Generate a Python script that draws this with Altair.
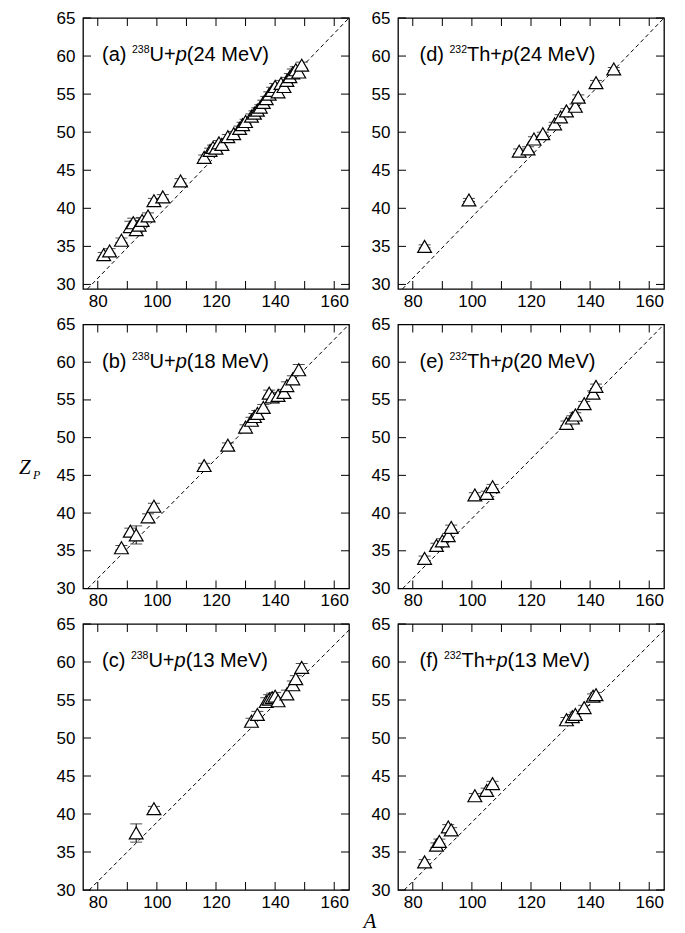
import altair as alt
import pandas as pd

# ---------------- data ----------------
a_A = [82, 84, 88, 91, 92, 93, 94, 95, 97, 99, 102, 108, 116, 118, 119, 120, 121, 122, 124, 126,
       128, 129, 130, 132, 133, 134, 135, 136, 137, 138, 139, 140, 141, 142, 143, 144, 145, 146, 147, 148, 149]
a_Z = [33.9, 34.4, 35.8, 37.6, 38.1, 37.2, 37.8, 38.4, 39.0, 41.0, 41.5, 43.6, 46.7, 47.6, 48.0, 47.9, 48.6, 48.4, 49.4, 49.8,
       50.5, 51.0, 51.4, 52.1, 52.5, 52.9, 53.3, 53.9, 54.4, 55.0, 55.5, 56.0, 55.3, 56.4, 56.0, 56.8, 57.3, 57.8, 58.2, 57.9, 58.8]
a_E = [0.3, 0.3, 0.3, 0.7, 0.6, 0.7, 0.6, 0.4, 0.4, 0.3, 0.3, 0.3, 0.3, 0.3, 0.3, 0.3, 0.3, 0.3, 0.3, 0.3,
       0.3, 0.3, 0.3, 0.3, 0.3, 0.3, 0.3, 0.3, 0.3, 0.3, 0.4, 0.4, 0.5, 0.4, 0.4, 0.4, 0.4, 0.5, 0.4, 0.6, 0.4]

b_A = [88, 91, 93, 97, 99, 116, 124, 130, 132, 133, 134, 136, 138, 139, 141, 143, 144, 146, 148]
b_Z = [35.4, 37.6, 37.1, 39.5, 40.9, 46.3, 49.0, 51.4, 52.3, 52.8, 53.2, 54.0, 55.9, 55.4, 55.6, 56.0, 56.9, 57.8, 59.0]
b_E = [0.3, 0.4, 1.2, 0.4, 0.4, 0.3, 0.3, 0.3, 0.4, 0.4, 0.4, 0.4, 0.4, 0.4, 0.4, 0.4, 0.5, 0.4, 0.7]

c_A = [93, 99, 132, 134, 137, 138, 139, 140, 141, 144, 146, 147, 149]
c_Z = [37.5, 40.7, 52.2, 53.1, 54.8, 55.1, 55.3, 55.5, 54.9, 55.8, 57.0, 57.8, 59.3]
c_E = [1.2, 0.3, 0.4, 0.4, 0.5, 0.6, 0.6, 0.5, 0.4, 0.5, 0.5, 0.4, 0.5]

d_A = [84, 99, 116, 119, 121, 124, 128, 130, 132, 135, 136, 142, 148]
d_Z = [35.0, 41.1, 47.5, 47.8, 49.1, 49.8, 51.1, 52.0, 52.8, 53.4, 54.6, 56.5, 58.3]
d_E = [0.2, 0.2, 0.3, 0.3, 0.3, 0.2, 0.2, 0.3, 0.3, 0.3, 0.3, 0.3, 0.2]

e_A = [84, 88, 90, 92, 93, 101, 105, 107, 132, 134, 135, 138, 141, 142]
e_Z = [34.0, 35.7, 36.3, 37.0, 38.1, 42.4, 42.6, 43.5, 51.9, 52.6, 53.0, 54.5, 55.9, 56.8]
e_E = [0.3, 0.3, 0.3, 0.3, 0.3, 0.3, 0.3, 0.3, 0.3, 0.3, 0.3, 0.3, 0.3, 0.3]

f_A = [84, 88, 89, 92, 93, 101, 105, 107, 132, 134, 135, 138, 141, 142]
f_Z = [33.7, 35.9, 36.4, 38.3, 37.9, 42.4, 43.1, 44.0, 52.4, 52.8, 53.1, 54.0, 55.5, 55.7]
f_E = [0.3, 0.3, 0.3, 0.3, 0.3, 0.3, 0.3, 0.3, 0.3, 0.3, 0.3, 0.3, 0.3, 0.3]

# dashed reference lines (end points)
line_A = {"a": [76.5, 165], "b": [76.6, 165], "c": [77.1, 165],
          "d": [76.5, 165], "e": [76.6, 165], "f": [77.1, 165]}
line_Z = {"a": [29.4, 65], "b": [30, 65], "c": [30, 64.2],
          "d": [29.4, 65], "e": [30, 65], "f": [30, 64.2]}

panel_tag = ["(a)", "(b)", "(c)", "(d)", "(e)", "(f)"]
panel_mass = ["238", "238", "238", "232", "232", "232"]
panel_target = ["U", "U", "U", "Th", "Th", "Th"]
panel_energy = ["(24 MeV)", "(18 MeV)", "(13 MeV)", "(24 MeV)", "(20 MeV)", "(13 MeV)"]

x_label_vals = [80, 100, 120, 140, 160]
x_tick_vals = [80, 90, 100, 110, 120, 130, 140, 150, 160]
y_tick_vals = [30, 35, 40, 45, 50, 55, 60, 65]

# ---------------- layout / style ----------------
W = 266
HEIGHTS = [271, 264, 266]
YDOMS = [[29.4, 65], [30, 65], [30, 65]]
XDOM = [75, 165]
FONT = "Liberation Sans"
SERIF = "Liberation Serif"
TICK = 8

AW = {'(': 333, ')': 333, ' ': 278, 'a': 556, 'b': 556, 'c': 500, 'd': 556, 'e': 556,
      'f': 278, 'U': 722, '+': 584, 'T': 611, 'h': 556, 'p': 556, 'M': 833, 'V': 667}
for ch in "0123456789":
    AW[ch] = 556


def tw(s, fs):
    return sum(AW[c] for c in s) * fs / 1000.0


def txt(text, x, y, fs, style="normal", font=FONT):
    return alt.Chart(alt.Data(values=[{"k": 0}])).mark_text(
        text=text, font=font, fontSize=fs, fontStyle=style, align="left",
        baseline="alphabetic", color="black"
    ).encode(x=alt.value(x), y=alt.value(y))


def panel(i, A, Z, E, row, col, extra=None):
    key = "abcdef"[i]
    H = HEIGHTS[row]
    xs = alt.Scale(domain=XDOM, nice=False, zero=False)
    ys = alt.Scale(domain=YDOMS[row], nice=False, zero=False)
    xax = alt.Axis(values=x_label_vals, ticks=False, domain=False, grid=False, title=None,
                   labelFont=FONT, labelFontSize=17, labelColor="black", labelPadding=4)
    yax = alt.Axis(values=y_tick_vals, ticks=False, domain=False, grid=False, title=None,
                   labelFont=FONT, labelFontSize=17, labelColor="black", labelPadding=8)

    def X(f):
        return alt.X(f, type="quantitative", scale=xs, axis=xax)

    def Y(f):
        return alt.Y(f, type="quantitative", scale=ys, axis=yax)

    df = pd.DataFrame({"A": A, "Z": Z, "E": E})
    df["lo"] = df["Z"] - df["E"]
    df["hi"] = df["Z"] + df["E"]
    caps = pd.DataFrame({"A": A + A, "Z": list(df["lo"]) + list(df["hi"])})
    ldf = pd.DataFrame({"A": line_A[key], "Z": line_Z[key]})
    xt = pd.DataFrame({"A": x_tick_vals})
    yt = pd.DataFrame({"Z": y_tick_vals})

    layers = []
    layers.append(alt.Chart(ldf).mark_line(color="black", strokeWidth=1, strokeDash=[4, 3], clip=True)
                  .encode(x=X("A"), y=Y("Z")))
    layers.append(alt.Chart(df).mark_rule(color="black", strokeWidth=1)
                  .encode(x=X("A"), y=Y("lo"), y2="hi"))
    layers.append(alt.Chart(caps).mark_tick(color="black", orient="horizontal", size=12, thickness=1)
                  .encode(x=X("A"), y=Y("Z")))
    layers.append(alt.Chart(df).mark_point(shape="triangle-up", size=190, filled=True, fill="white",
                                           stroke="black", strokeWidth=1.2, opacity=1)
                  .encode(x=X("A"), y=Y("Z")))
    # inward ticks on all four sides
    layers.append(alt.Chart(xt).mark_rule(color="black", strokeWidth=1)
                  .encode(x=X("A"), y=alt.value(H), y2=alt.value(H - TICK)))
    layers.append(alt.Chart(xt).mark_rule(color="black", strokeWidth=1)
                  .encode(x=X("A"), y=alt.value(0), y2=alt.value(TICK)))
    layers.append(alt.Chart(yt).mark_rule(color="black", strokeWidth=1)
                  .encode(y=Y("Z"), x=alt.value(0), x2=alt.value(TICK)))
    layers.append(alt.Chart(yt).mark_rule(color="black", strokeWidth=1)
                  .encode(y=Y("Z"), x=alt.value(W - TICK), x2=alt.value(W)))

    # panel label with superscript mass number and italic p
    x = 19 if col == 0 else 21.5
    base = 43
    fs, sfs = 20, 10.5
    s1 = panel_tag[i] + " "
    layers.append(txt(s1, x, base, fs)); x += tw(s1, fs)
    layers.append(txt(panel_mass[i], x, base - 8, sfs)); x += tw(panel_mass[i], sfs)
    s3 = panel_target[i] + "+"
    layers.append(txt(s3, x, base, fs)); x += tw(s3, fs)
    layers.append(txt("p", x, base, fs, "italic")); x += tw("p", fs)
    layers.append(txt(panel_energy[i], x, base, fs))

    if extra:
        layers.extend(extra)

    return alt.layer(*layers).properties(width=W, height=H)


ytitle = [txt("Z", -64, 149, 21, "italic", SERIF), txt("P", -50, 154, 12, "italic", SERIF)]
xtitle = [alt.Chart(alt.Data(values=[{"k": 0}])).mark_text(
    text="A", font=SERIF, fontSize=21, fontStyle="italic", align="center", baseline="alphabetic",
    color="black").encode(x=alt.value(-28), y=alt.value(304))]

pa = panel(0, a_A, a_Z, a_E, 0, 0)
pb = panel(1, b_A, b_Z, b_E, 1, 0, ytitle)
pc = panel(2, c_A, c_Z, c_E, 2, 0)
pd_ = panel(3, d_A, d_Z, d_E, 0, 1)
pe = panel(4, e_A, e_Z, e_E, 1, 1)
pf = panel(5, f_A, f_Z, f_E, 2, 1, xtitle)

chart = alt.ConcatChart(
    concat=[pa, pd_, pb, pe, pc, pf], columns=2,
    spacing={"row": 35.5, "column": 49}, bounds="flush"
).properties(
    padding={"left": 10, "top": 0, "right": 5, "bottom": 0},
    background="white"
).configure_view(stroke="black", strokeWidth=1.3)

chart.save("out.html", embed_options={"renderer": "svg", "actions": False})
